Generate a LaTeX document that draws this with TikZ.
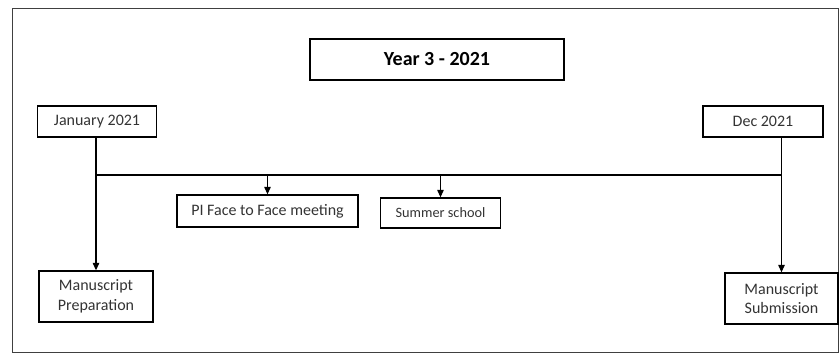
\documentclass[tikz,border=0pt]{standalone}
\usepackage{fontspec}
\setmainfont{Carlito}
\usepackage{xcolor}
\usetikzlibrary{arrows.meta}

\begin{document}
\begin{tikzpicture}[x=1pt, y=-1pt,
    tbox/.style={draw, line width=1.3pt, align=center, inner sep=0pt, text=black!80, font=\fontsize{16}{19.5}\selectfont},
    link/.style={line width=1.1pt},
    arr/.style={line width=1.1pt, -{Triangle[length=7.5pt, width=6.5pt]}}]
            \useasboundingbox (0,0) rectangle (839,354);
            % Frame
            \draw[line width=0.9pt, black!75] (12,8) rectangle (838,352);

            % Title
            \node[tbox, minimum width=254, minimum height=41, font=\fontsize{20}{24}\selectfont\bfseries, text=black] (year) at (437,59.5) {Year 3 - 2021};

            % Start and end
            \node[tbox, minimum width=119, minimum height=31] (jan) at (97,121.5) {January 2021};
            \node[tbox, minimum width=120, minimum height=31] (dec) at (763,121.5) {Dec 2021};

            % Events
            \node[tbox, minimum width=181, minimum height=32] (pi) at (267.5,211) {PI Face to Face meeting};
            \node[tbox, minimum width=120, minimum height=30, font=\fontsize{14.3}{17}\selectfont] (summer) at (440.5,213) {Summer school};

            % Manuscript
            \node[tbox, minimum width=114, minimum height=51] (prep) at (96,296.5) {Manuscript\\Preparation};
            \node[tbox, minimum width=113, minimum height=51] (subm) at (781.5,298.5) {Manuscript\\Submission};

            % Timeline
            \coordinate (bus) at (96,175);
            \draw[link] (jan.south -| bus) -- (bus) -- (bus -| subm.north) -- (subm.north |- dec.south);
            \draw[arr] (bus) -- (prep.north);
            \draw[arr] (bus -| subm.north) -- (subm.north);
            \draw[arr] (bus -| pi.north) -- (pi.north);
            \draw[arr] (bus -| summer.north) -- (summer.north);
        \end{tikzpicture}
\end{document}
